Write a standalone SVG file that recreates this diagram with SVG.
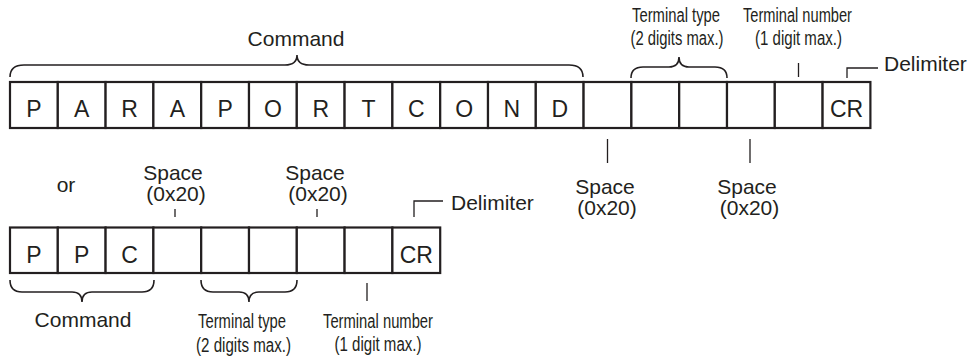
<svg xmlns="http://www.w3.org/2000/svg" width="971" height="361" viewBox="0 0 971 361">
<style>
  .cell { fill: #ffffff; stroke: #231f20; stroke-width: 2.2; }
  .ch { font-family: "Liberation Sans", Arial, sans-serif; font-size: 23px; fill: #231f20; text-anchor: middle; }
  .lbl { font-family: "Liberation Sans", Arial, sans-serif; font-size: 21px; fill: #231f20; }
  .mid { text-anchor: middle; }
  .nar { font-family: "Liberation Sans", Arial, sans-serif; font-size: 19.5px; fill: #231f20; text-anchor: middle; }
  .brace { fill: none; stroke: #231f20; stroke-width: 1.6; }
  .tick { fill: none; stroke: #231f20; stroke-width: 1.3; }
</style>
<rect width="971" height="361" fill="#ffffff"/>

<!-- Top row -->
<g id="row1">
  <g id="r1c1"><rect class="cell" x="10" y="82" width="47.8" height="46"/><text class="ch" x="33.9" y="117">P</text></g>
  <g id="r1c2"><rect class="cell" x="57.8" y="82" width="47.8" height="46"/><text class="ch" x="81.7" y="117">A</text></g>
  <g id="r1c3"><rect class="cell" x="105.6" y="82" width="47.8" height="46"/><text class="ch" x="129.5" y="117">R</text></g>
  <g id="r1c4"><rect class="cell" x="153.4" y="82" width="47.8" height="46"/><text class="ch" x="177.3" y="117">A</text></g>
  <g id="r1c5"><rect class="cell" x="201.2" y="82" width="47.8" height="46"/><text class="ch" x="225.1" y="117">P</text></g>
  <g id="r1c6"><rect class="cell" x="249" y="82" width="47.8" height="46"/><text class="ch" x="272.9" y="117">O</text></g>
  <g id="r1c7"><rect class="cell" x="296.8" y="82" width="47.8" height="46"/><text class="ch" x="320.7" y="117">R</text></g>
  <g id="r1c8"><rect class="cell" x="344.6" y="82" width="47.8" height="46"/><text class="ch" x="368.5" y="117">T</text></g>
  <g id="r1c9"><rect class="cell" x="392.4" y="82" width="47.8" height="46"/><text class="ch" x="416.3" y="117">C</text></g>
  <g id="r1c10"><rect class="cell" x="440.2" y="82" width="47.8" height="46"/><text class="ch" x="464.1" y="117">O</text></g>
  <g id="r1c11"><rect class="cell" x="488" y="82" width="47.8" height="46"/><text class="ch" x="511.9" y="117">N</text></g>
  <g id="r1c12"><rect class="cell" x="535.8" y="82" width="47.8" height="46"/><text class="ch" x="559.7" y="117">D</text></g>
  <g id="r1c13"><rect class="cell" x="583.6" y="82" width="47.8" height="46"/></g>
  <g id="r1c14"><rect class="cell" x="631.4" y="82" width="47.8" height="46"/></g>
  <g id="r1c15"><rect class="cell" x="679.2" y="82" width="47.8" height="46"/></g>
  <g id="r1c16"><rect class="cell" x="727" y="82" width="47.8" height="46"/></g>
  <g id="r1c17"><rect class="cell" x="774.8" y="82" width="47.8" height="46"/></g>
  <g id="r1c18"><rect class="cell" x="822.6" y="82" width="47.8" height="46"/><text class="ch" x="846.5" y="117">CR</text></g>
</g>

<!-- Bottom row -->
<g id="row2">
  <g id="r2c1"><rect class="cell" x="10" y="227.5" width="47.8" height="45.5"/><text class="ch" x="33.9" y="262.5">P</text></g>
  <g id="r2c2"><rect class="cell" x="57.8" y="227.5" width="47.8" height="45.5"/><text class="ch" x="81.7" y="262.5">P</text></g>
  <g id="r2c3"><rect class="cell" x="105.6" y="227.5" width="47.8" height="45.5"/><text class="ch" x="129.5" y="262.5">C</text></g>
  <g id="r2c4"><rect class="cell" x="153.4" y="227.5" width="47.8" height="45.5"/></g>
  <g id="r2c5"><rect class="cell" x="201.2" y="227.5" width="47.8" height="45.5"/></g>
  <g id="r2c6"><rect class="cell" x="249" y="227.5" width="47.8" height="45.5"/></g>
  <g id="r2c7"><rect class="cell" x="296.8" y="227.5" width="47.8" height="45.5"/></g>
  <g id="r2c8"><rect class="cell" x="344.6" y="227.5" width="47.8" height="45.5"/></g>
  <g id="r2c9"><rect class="cell" x="392.4" y="227.5" width="47.8" height="45.5"/><text class="ch" x="416.3" y="262.5">CR</text></g>
</g>

<!-- Connectors: braces and leader lines -->
<g id="connectors">
  <path class="brace" d="M10,77 Q10,65 24,65 L285,65 Q297,65 297,55 Q297,65 309,65 L569,65 Q583,65 583,77"/>
  <path class="brace" d="M631,78 Q631,67 643,67 L669,67 Q679,67 679,57 Q679,67 689,67 L715,67 Q727,67 727,78"/>
  <path class="brace" d="M10,280 Q10,292 22,292 L72,292 Q82,292 82,302 Q82,292 92,292 L142,292 Q154,292 154,280"/>
  <path class="brace" d="M201,280 Q201,292 213,292 L239,292 Q249,292 249,302 Q249,292 259,292 L285,292 Q297,292 297,280"/>
  <line class="tick" x1="798.5" y1="63" x2="798.5" y2="77"/>
  <polyline class="tick" points="847,78 847,68 878,68"/>
  <line class="tick" x1="607.5" y1="139" x2="607.5" y2="163"/>
  <line class="tick" x1="750" y1="139" x2="750" y2="163"/>
  <line class="tick" x1="175" y1="209" x2="175" y2="217"/>
  <line class="tick" x1="317" y1="209" x2="317" y2="217"/>
  <polyline class="tick" points="414,217 414,201 443,201"/>
  <line class="tick" x1="367" y1="283" x2="367" y2="301"/>
</g>

<!-- Labels -->
<g id="label-command-top"><text class="lbl mid" x="296" y="46">Command</text></g>
<g id="label-termtype-top"><text class="nar" x="676" y="22" textLength="88" lengthAdjust="spacingAndGlyphs">Terminal type</text><text class="nar" x="677" y="45" textLength="93" lengthAdjust="spacingAndGlyphs">(2 digits max.)</text></g>
<g id="label-termnum-top"><text class="nar" x="797.5" y="22" textLength="109" lengthAdjust="spacingAndGlyphs">Terminal number</text><text class="nar" x="798.5" y="45" textLength="87" lengthAdjust="spacingAndGlyphs">(1 digit max.)</text></g>
<g id="label-delim-top"><text class="lbl" x="884" y="71">Delimiter</text></g>
<g id="label-space-top1"><text class="lbl mid" x="605" y="194">Space</text><text class="lbl mid" x="607" y="215">(0x20)</text></g>
<g id="label-space-top2"><text class="lbl mid" x="747" y="194">Space</text><text class="lbl mid" x="749.5" y="215">(0x20)</text></g>
<g id="label-or"><text class="lbl mid" x="66" y="192">or</text></g>
<g id="label-space-bot1"><text class="lbl mid" x="173" y="180">Space</text><text class="lbl mid" x="176" y="201">(0x20)</text></g>
<g id="label-space-bot2"><text class="lbl mid" x="315" y="180">Space</text><text class="lbl mid" x="318" y="201">(0x20)</text></g>
<g id="label-delim-bot"><text class="lbl" x="451" y="210">Delimiter</text></g>
<g id="label-command-bot"><text class="lbl mid" x="83" y="327">Command</text></g>
<g id="label-termtype-bot"><text class="nar" x="242" y="328" textLength="88" lengthAdjust="spacingAndGlyphs">Terminal type</text><text class="nar" x="243.5" y="352" textLength="95" lengthAdjust="spacingAndGlyphs">(2 digits max.)</text></g>
<g id="label-termnum-bot"><text class="nar" x="378" y="328" textLength="110" lengthAdjust="spacingAndGlyphs">Terminal number</text><text class="nar" x="378" y="351" textLength="87" lengthAdjust="spacingAndGlyphs">(1 digit max.)</text></g>
</svg>
